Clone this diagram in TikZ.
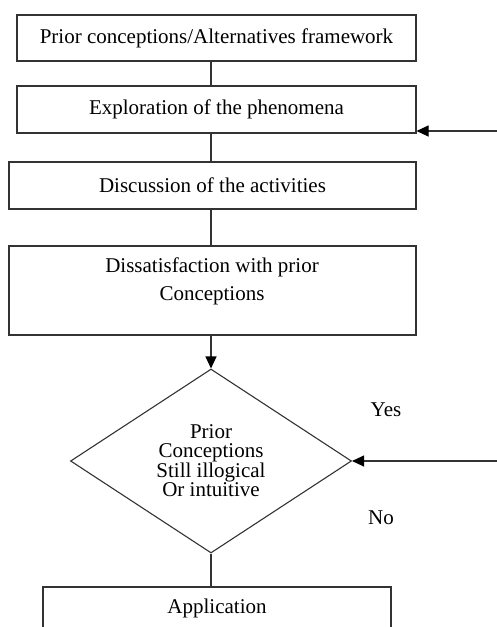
\documentclass[tikz,border=0pt]{standalone}
\usepackage{fontspec}
\setmainfont{Liberation Serif}
\usetikzlibrary{shapes.geometric,arrows.meta}
\definecolor{ln}{HTML}{333333}
\tikzset{
  x=1pt, y=-1pt,
  box/.style={draw=ln, line width=1.1pt, rectangle, inner sep=0pt, align=center,
    font=\fontsize{21}{28}\selectfont},
  dec/.style={draw=ln, line width=1.1pt, diamond, inner sep=0pt, align=center,
    font=\fontsize{21}{19}\selectfont},
  lbl/.style={inner sep=0pt, font=\fontsize{21}{28}\selectfont},
  conn/.style={draw=ln, line width=1.1pt},
  arr/.style={conn, -{Triangle[length=12pt,width=11pt,fill=black,color=black]}}
}
\begin{document}
\begin{tikzpicture}
\useasboundingbox (0,0) rectangle (497,627);
\clip (0,0) rectangle (497,627);
\node[box, minimum width=399pt, minimum height=46pt] (b1) at (216.5,38) {Prior conceptions/Alternatives framework};
\node[box, minimum width=399pt, minimum height=47pt] (b2) at (216.5,109.5) {Exploration of the phenomena};
\node[box, minimum width=407pt, minimum height=47pt] (b3) at (212.5,185.5) {Discussion of the activities};
\node[box, minimum width=407pt, minimum height=89pt] (b4) at (212.5,290.5) {};
\node[lbl, align=center] (b4t) at (212,281) {Dissatisfaction with prior\\Conceptions};
\node[dec, minimum width=281pt, minimum height=184pt] (d) at (211,461) {Prior\\Conceptions\\Still illogical\\Or intuitive};
\node[box, minimum width=348pt, minimum height=42pt] (b5) at (217,608) {Application};
\node[lbl] (yes) at (386,410) {Yes};
\node[lbl] (no) at (381,518) {No};
\coordinate (in2) at (497,131);
\coordinate (in1) at (497,461);
\draw[conn] (b1.south -| d.north) -- (b2.north -| d.north);
\draw[conn] (b2.south -| d.north) -- (b3.north -| d.north);
\draw[conn] (b3.south -| d.north) -- (b4.north -| d.north);
\draw[arr] (b4.south -| d.north) -- (d.north);
\draw[conn] (d.south) -- (b5.north -| d.south);
\draw[arr] (in2) -- (in2 -| b2.east);
\draw[arr] (in1) -- (d.east);
\end{tikzpicture}
\end{document}
